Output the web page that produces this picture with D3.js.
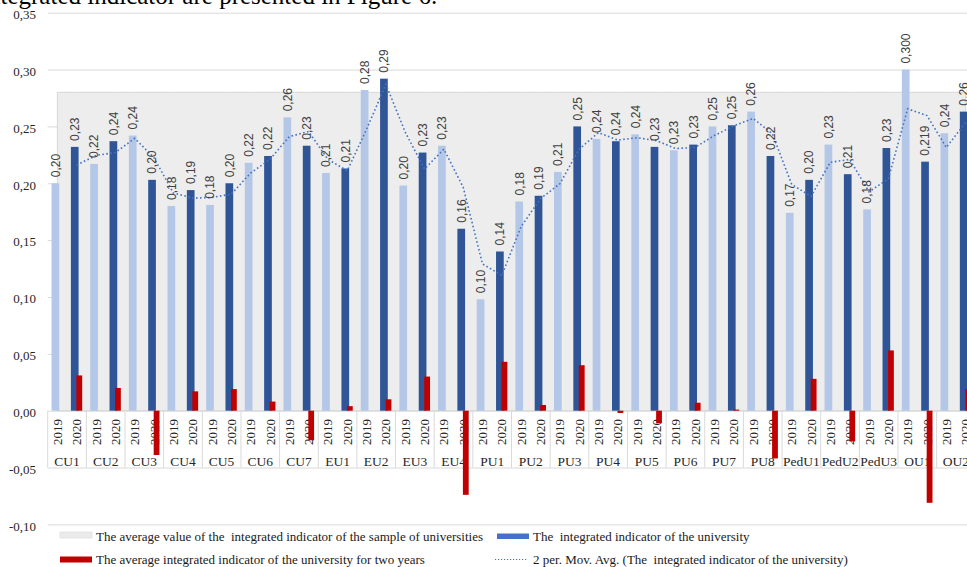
<!DOCTYPE html>
<html><head><meta charset="utf-8">
<script src="https://cdn.jsdelivr.net/npm/d3@7"></script>
<style>body{margin:0;background:#fff;overflow:hidden} svg{display:block}</style>
</head><body><svg id="chart" width="967" height="567"></svg>
<script>
// ---------- data ----------
const universities = ["CU1","CU2","CU3","CU4","CU5","CU6","CU7","EU1","EU2","EU3","EU4",
  "PU1","PU2","PU3","PU4","PU5","PU6","PU7","PU8","PedU1","PedU2","PedU3","OU1","OU2"];
const years = ["2019","2020"];
const indicator2019 = [0.200,0.217,0.242,0.180,0.181,0.218,0.258,0.209,0.282,0.198,0.233,
  0.098,0.184,0.210,0.239,0.243,0.229,0.250,0.263,0.174,0.234,0.177,0.300,0.244];
const indicator2020 = [0.232,0.237,0.203,0.194,0.200,0.224,0.233,0.213,0.292,0.227,0.160,
  0.140,0.189,0.250,0.237,0.232,0.234,0.251,0.224,0.203,0.208,0.231,0.219,0.263];
const twoYearIndicator = [0.031,0.020,-0.039,0.017,0.019,0.008,-0.026,0.004,0.010,0.030,-0.074,
  0.043,0.005,0.040,-0.002,-0.011,0.007,0.001,-0.042,0.028,-0.027,0.053,-0.081,0.019];
const labelDecimals = [2,2,2,2,2,2,2,2,2,2,2,2,2,2,2,2,2,2,2,2,2,2,3,2];
const sampleAverage = 0.28;
const yTicks = [-0.10,-0.05,0.00,0.05,0.10,0.15,0.20,0.25,0.30,0.35];
const legendLabels = [
  "The average value of the  integrated indicator of the sample of universities",
  "The  integrated indicator of the university",
  "The average integrated indicator of the university for two years",
  "2 per. Mov. Avg. (The  integrated indicator of the university)"
];
const captionText = "ntegrated indicator are presented in Figure 6.";

// ---------- setup ----------
const W = 967, H = 567;
const svg = d3.select("#chart");
const serif = "'Liberation Serif','Times New Roman',serif";
const sans = "'Liberation Sans',Arial,sans-serif";
const loc = d3.formatLocale({decimal: ",", thousands: ".", grouping: [3], currency: ["", ""], minus: "-"});
const f2 = loc.format(".2f");

const plotLeft = 47.7, plotRight = 975.3;
const y = d3.scaleLinear().domain([-0.10, 0.35]).range([524.4, 12.7]);

// flattened series
const points = [];
universities.forEach((u, i) => {
  points.push({u, year: years[0], key: u + "|" + years[0], v: indicator2019[i], dec: labelDecimals[i]});
  points.push({u, year: years[1], key: u + "|" + years[1], v: indicator2020[i], dec: labelDecimals[i], diff: twoYearIndicator[i]});
});
const x = d3.scaleBand().domain(points.map(p => p.key)).range([plotLeft, plotRight]).padding(0);
const xg = d3.scaleBand().domain(universities).range([plotLeft, plotRight]).padding(0);
const cx = k => x(k) + x.bandwidth() / 2;

// caption remnant at top (cropped line of the surrounding text)
svg.append("text").attr("x", -12).attr("y", 3.5)
  .attr("font-family", serif).attr("font-size", 25).attr("fill", "#000")
  .text(captionText);

// ---------- gridlines + y axis ----------
const yAxis = svg.append("g").attr("transform", `translate(${plotLeft},0)`)
  .call(d3.axisLeft(y).tickValues(yTicks).tickSize(-(W - plotLeft)).tickPadding(11.7).tickFormat(f2));
yAxis.select(".domain").remove();
yAxis.selectAll(".tick line").attr("stroke", "#d9d9d9");
yAxis.selectAll(".tick text").attr("font-family", serif).attr("font-size", 13)
  .attr("fill", "#262626").attr("dy", "0.45em");

// ---------- sample average area ----------
const area = d3.area().x(p => cx(p.key)).y0(y(0)).y1(() => y(sampleAverage));
svg.append("path").datum(points).attr("d", area)
  .attr("fill", "#ededed").attr("stroke", "#cfcfcf").attr("stroke-width", 0.8);

// ---------- category axis ----------
const bounds = d3.range(universities.length + 1).map(i => plotLeft + i * xg.bandwidth());
svg.append("g").selectAll("line").data(bounds).join("line")
  .attr("x1", d => d).attr("x2", d => d).attr("y1", y(0)).attr("y2", y(-0.05))
  .attr("stroke", "#d9d9d9");
svg.append("g").selectAll("text").data(points).join("text")
  .attr("transform", p => `translate(${cx(p.key)},419) rotate(-90)`)
  .attr("text-anchor", "end").attr("dy", "0.35em")
  .attr("font-family", serif).attr("font-size", 13).attr("fill", "#262626")
  .text(p => p.year);
svg.append("g").selectAll("text").data(universities).join("text")
  .attr("x", u => xg(u) + xg.bandwidth() / 2).attr("y", 466)
  .attr("text-anchor", "middle").attr("font-family", serif).attr("font-size", 13.5)
  .attr("fill", "#262626").text(u => u);

// ---------- bars ----------
const bw = 7.7;
svg.append("g").selectAll("rect").data(points).join("rect")
  .attr("x", p => cx(p.key) - 5.8).attr("width", bw)
  .attr("y", p => y(p.v)).attr("height", p => y(0) - y(p.v))
  .attr("fill", p => p.year === years[0] ? "#b4c7e7" : "#2f5597");

const reds = points.filter(p => p.diff !== undefined);
svg.append("g").selectAll("rect").data(reds).join("rect")
  .attr("x", p => cx(p.key) - 0.3).attr("width", 5.8)
  .attr("y", p => y(Math.max(0, p.diff))).attr("height", p => Math.abs(y(p.diff) - y(0)))
  .attr("fill", "#c00000");

// ---------- 2-period moving average trendline ----------
const ma = points.slice(1).map((p, i) => ({key: p.key, v: (points[i].v + p.v) / 2}));
svg.append("path").datum(ma)
  .attr("d", d3.line().x(d => cx(d.key)).y(d => y(d.v)))
  .attr("fill", "none").attr("stroke", "#4472c4").attr("stroke-width", 1.6)
  .attr("stroke-dasharray", "1.6,2.4").attr("stroke-linecap", "butt");

// ---------- data labels ----------
svg.append("g").selectAll("text").data(points).join("text")
  .attr("transform", p => `translate(${cx(p.key) - 1.9},${y(p.v) - 6}) rotate(-90)`)
  .attr("text-anchor", "start").attr("dy", "0.36em")
  .attr("font-family", sans).attr("font-size", 12).attr("fill", "#404040")
  .text(p => loc.format(`.${p.dec}f`)(p.v));

// ---------- legend ----------
const lg = svg.append("g");
lg.append("rect").attr("x", 60).attr("y", 532).attr("width", 32).attr("height", 6)
  .attr("fill", "#ebebeb").attr("stroke", "#dadada").attr("stroke-width", 0.6);
lg.append("rect").attr("x", 497).attr("y", 533.5).attr("width", 32).attr("height", 5.5)
  .attr("fill", "#4472c4");
lg.append("rect").attr("x", 60).attr("y", 556.5).attr("width", 32).attr("height", 6)
  .attr("fill", "#c00000");
lg.append("line").attr("x1", 495).attr("x2", 528).attr("y1", 559.5).attr("y2", 559.5)
  .attr("stroke", "#4472c4").attr("stroke-width", 1.2).attr("stroke-dasharray", "1.2,1.8");
const legPos = [[96, 540.5], [533, 540.5], [96, 563.5], [533, 563.5]];
lg.selectAll("text").data(legendLabels).join("text")
  .attr("x", (d, i) => legPos[i][0]).attr("y", (d, i) => legPos[i][1])
  .attr("font-family", serif).attr("font-size", 13).attr("fill", "#1a1a1a")
  .attr("xml:space", "preserve").style("white-space", "pre")
  .text(d => d);
</script></body></html>
